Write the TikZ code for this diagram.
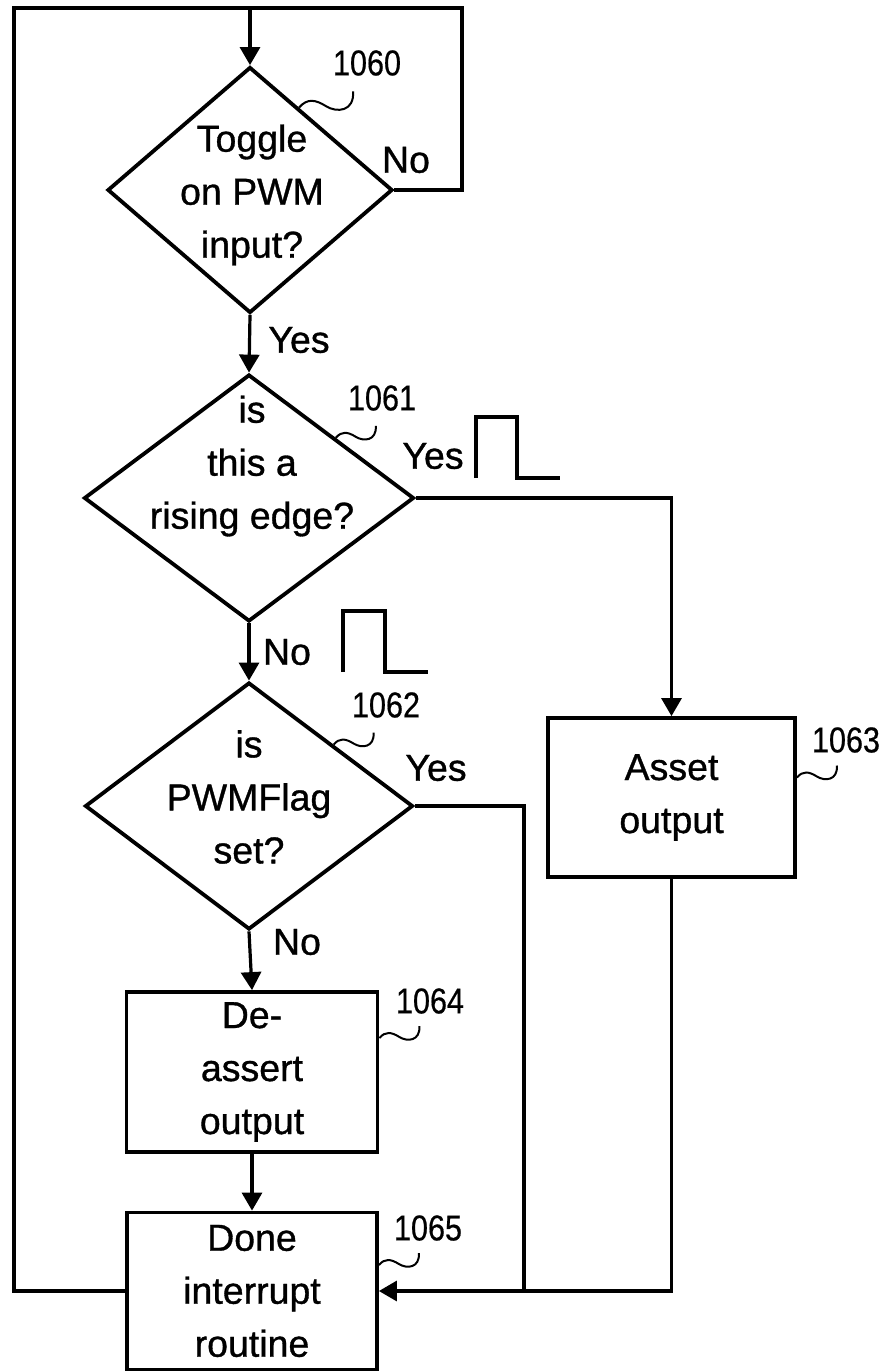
\documentclass[tikz,border=0pt]{standalone}
\usepackage{fontspec}
\setmainfont[FakeBold=0.9]{Liberation Sans}
\newfontfamily\numfont[FakeStretch=0.85,FakeBold=0.5]{Liberation Sans}
\usetikzlibrary{shapes.geometric,arrows.meta,calc}
\tikzset{
  ln/.style={line width=3.2pt},
  arr/.style={-{Triangle[length=18pt,width=20pt]}},
  dia/.style={draw,shape=diamond,line width=3.8pt,inner sep=0pt,aspect=1},
  boxn/.style={draw,rectangle,line width=3.8pt,inner sep=0pt,align=center,
    font=\fontsize{37.5}{53}\selectfont},
  txt/.style={inner sep=0pt,align=center,font=\fontsize{37.5}{53}\selectfont},
  num/.style={inner sep=0pt,font=\numfont\fontsize{36}{40}\selectfont},
  sq/.style={line width=2pt},
  squig/.pic={\draw[sq] (0,0) .. controls (6,-7) and (12,-6) .. (20,-1) .. controls (28,4) and (41,3) .. (40,-12);},
  pulse/.style={line width=3.2pt}
}
\begin{document}
\begin{tikzpicture}[x=1pt,y=-1pt]
\useasboundingbox (0,0) rectangle (891,1372);
% shapes
\node[dia,minimum width=285pt,minimum height=246pt] (d1060) at (250,190) {};
\node[dia,minimum width=330pt,minimum height=247pt] (d1061) at (249,498) {};
\node[dia,minimum width=328pt,minimum height=247pt] (d1062) at (249,806) {};
\node[boxn,minimum width=247pt,minimum height=159pt] (b1063) at (671.5,797.5) {Asset\\output};
\node[boxn,minimum width=251pt,minimum height=160pt] (b1064) at (252,1072) {De-\\assert\\output};
\node[boxn,minimum width=250pt,minimum height=157pt] (b1065) at (252,1291) {Done\\interrupt\\routine};
% diamond texts
\node[txt] (t1060) at (252,195) {Toggle\\on PWM\\input?};
\node[txt] (t1061) at (252,466) {is\\this a\\rising edge?};
\node[txt] (t1062) at (249,797) {is\\PWMFlag\\set?};
% coordinates
\coordinate (tl) at (14,8);
\coordinate (tr) at (462,8);
\coordinate (tm) at (250,8);
\coordinate (jx) at (524,0);
% connectors
\draw[ln,arr] (tm) -- (d1060.north);
\draw[ln] (d1060.east) -| (tr) -- (tl) |- (b1065.west);
\draw[ln,arr] (d1060.south) -- (d1061.north);
\draw[ln,arr] (d1061.east) -| (b1063.north);
\draw[ln,arr] (d1061.south) -- (d1062.north);
\draw[ln] (d1062.east) -| (b1065.east -| jx);
\draw[ln,arr] (d1062.south) -- (b1064.north);
\draw[ln,arr] (b1064.south) -- (b1065.north);
\draw[ln,arr] (b1063.south) |- (b1065.east);
% branch labels
\node[txt] (l1) at (406,160) {No};
\node[txt] (l2) at (299,340) {Yes};
\node[txt] (l3) at (433,456) {Yes};
\node[txt] (l4) at (287,652) {No};
\node[txt] (l5) at (436,768) {Yes};
\node[txt] (l6) at (297,942) {No};
% pulses
\draw[pulse] (476,478) -- (476,417) -- (517,417) -- (517,478) -- (560,478);
\draw[pulse] (343,672) -- (343,611) -- (385,611) -- (385,672) -- (428,672);
% reference numerals
\node[num] (n1060) at (367,63) {1060};
\node[num] (n1061) at (382,398) {1061};
\node[num] (n1062) at (386,705) {1062};
\node[num] (n1063) at (846,740) {1063};
\node[num] (n1064) at (430,1001) {1064};
\node[num] (n1065) at (428,1228) {1065};
\pic[scale=1.35] at ($(d1060.north)!0.34!(d1060.east)$) {squig};
\pic at ($(d1061.north)!0.52!(d1061.east)$) {squig};
\pic at ($(d1062.north)!0.51!(d1062.east)$) {squig};
\pic at ([yshift=20pt]b1063.east) {squig};
\pic at ([yshift=34pt]b1064.east) {squig};
\pic at ([yshift=26pt]b1065.east) {squig};
\end{tikzpicture}
\end{document}
